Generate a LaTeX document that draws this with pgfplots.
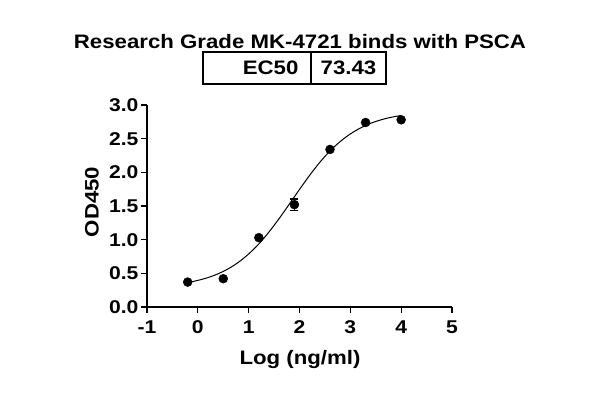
\documentclass[border=0pt]{standalone}
\usepackage{fontspec}
\setmainfont{Liberation Sans}[FakeStretch=1.14]
\usepackage{pgfplots}
\pgfplotsset{compat=1.18}
\begin{document}
\begin{tikzpicture}[x=1pt,y=1pt]
\useasboundingbox (0,0) rectangle (600,403);
\begin{axis}[
  at={(147pt,96pt)}, anchor=south west,
  scale only axis, width=305pt, height=202pt,
  xmin=-1, xmax=5, ymin=0, ymax=3,
  axis lines=left, axis line style={-, line width=1.3pt},
  tick align=outside, major tick length=6pt,
  tick style={line width=1.3pt, black},
  xtick={-1,0,1,2,3,4,5}, xticklabels={-1,0,1,2,3,4,5},
  ytick={0,0.5,1,1.5,2,2.5,3}, yticklabels={0.0,0.5,1.0,1.5,2.0,2.5,3.0},
  ticklabel style={font=\fontsize{18.5}{21}\selectfont\bfseries},
  xticklabel style={yshift=-4pt},
  yticklabel style={xshift=1pt},
  clip=false,
]
\addplot[black, line width=1pt, smooth] coordinates {
(-0.2,0.363) (0,0.395) (0.2,0.437) (0.4,0.494) (0.6,0.568) (0.8,0.665)
(1.0,0.788) (1.2,0.937) (1.4,1.114) (1.6,1.314) (1.8,1.528) (2.0,1.746)
(2.2,1.956) (2.4,2.149) (2.6,2.317) (2.8,2.457) (3.0,2.570) (3.2,2.659)
(3.4,2.728) (3.6,2.779) (3.8,2.817) (4.0,2.845)};
\addplot[only marks, mark=*, mark size=4.5pt, black,
  error bars/.cd, y dir=both, y explicit,
  error bar style={line width=1.2pt}, error mark options={rotate=90, mark size=4pt, line width=1.2pt}]
  coordinates {
(-0.2,0.37) +- (0,0)
(0.5,0.42) +- (0,0)
(1.2,1.03) +- (0,0)
(1.9,1.52) +- (0,0.085)
(2.6,2.34) +- (0,0)
(3.3,2.74) +- (0,0)
(4.0,2.78) +- (0,0)};
\end{axis}
\node[font=\fontsize{19.5}{22}\selectfont\bfseries] at (300,361) {Research Grade MK-4721 binds with PSCA};
\draw[line width=1.3pt] (203,319) rectangle (386,351);
\draw[line width=1.3pt] (311,319) -- (311,351);
\node[font=\fontsize{19.5}{22}\selectfont\bfseries, anchor=east] at (302,335) {EC50};
\node[font=\fontsize{19.5}{22}\selectfont\bfseries] at (348.5,335) {73.43};
\node[font=\fontsize{19.5}{22}\selectfont\bfseries, rotate=90] at (92,201) {OD450};
\node[font=\fontsize{19.5}{22}\selectfont\bfseries] at (300,43) {Log (ng/ml)};
\end{tikzpicture}
\end{document}
